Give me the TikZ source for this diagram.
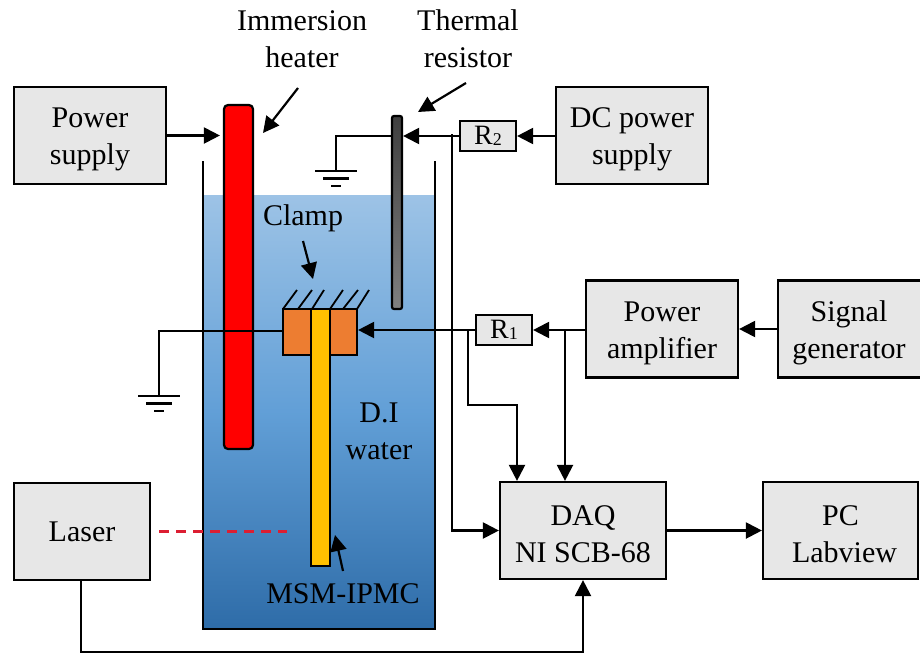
\documentclass[tikz,border=0pt]{standalone}
\usepackage{fontspec}
\setmainfont{Liberation Serif}
\usetikzlibrary{arrows.meta,calc}
\definecolor{boxgray}{HTML}{E7E7E7}
\definecolor{watertop}{HTML}{9DC3E6}
\definecolor{watermid}{HTML}{5B9BD5}
\definecolor{waterbot}{HTML}{2E6CA8}
\definecolor{clampor}{HTML}{ED7D31}
\definecolor{beamyl}{HTML}{FFC000}
\definecolor{laserred}{HTML}{DC1E32}
\tikzset{
  blockbox/.style={draw=black,line width=2.2pt,fill=boxgray,inner sep=0pt},
  smallbox/.style={draw=black,line width=2.2pt,fill=boxgray,inner sep=0pt,minimum width=56pt,minimum height=30pt,
    font=\fontsize{28}{30}\selectfont},
  lbl/.style={inner sep=0pt,align=center,font=\fontsize{30}{37}\selectfont},
  boxtxt/.style={lbl,yshift=-4pt},
  wire/.style={line width=2.2pt,draw=black},
  arr/.style={wire,-{Triangle[length=16pt,width=16pt]}},
  hatch/.style={line width=1.8pt,draw=black},
  gnd/.style={line width=2.2pt,draw=black},
}
\newcommand{\groundsym}[1]{%
  \draw[gnd] ($(#1)+(-21,0)$) -- ($(#1)+(21,0)$);
  \draw[gnd] ($(#1)+(-13,7.5)$) -- ($(#1)+(13,7.5)$);
  \draw[gnd] ($(#1)+(-5,15)$) -- ($(#1)+(5,15)$);
}
\begin{document}
\begin{tikzpicture}[x=1pt,y=-1pt]
\useasboundingbox (0,0) rectangle (920,653);
% water and tank
\shade[top color=watertop,bottom color=waterbot,middle color=watermid!90!watertop] (203,195) rectangle (435,629);
\draw[wire,line join=miter] (203,161) -- (203,629) -- (435,629) -- (435,161);
% blocks
\node[blockbox,minimum width=152pt,minimum height=97pt,label={[boxtxt]center:Power\\supply}] (ps) at (90,135.5) {};
\node[blockbox,minimum width=152pt,minimum height=97pt,label={[boxtxt]center:DC power\\supply}] (dc) at (632,135.5) {};
\node[blockbox,minimum width=152pt,minimum height=97pt,label={[boxtxt]center:Power\\amplifier}] (amp) at (662,329) {};
\node[blockbox,minimum width=150pt,minimum height=97pt,label={[boxtxt,xshift=-4pt]center:Signal\\generator}] (sig) at (853,329) {};
\node[blockbox,minimum width=136pt,minimum height=97pt,label={[lbl]center:Laser}] (laser) at (82,531.5) {};
\node[blockbox,minimum width=166pt,minimum height=97pt,label={[boxtxt]center:DAQ\\NI SCB-68}] (daq) at (583,530.5) {};
\node[blockbox,minimum width=155pt,minimum height=97pt,label={[boxtxt,xshift=4pt]center:\hspace*{-8pt}PC\\Labview}] (pc) at (840.5,530.5) {};
\node[smallbox] (r2) at (488,136) {R\raisebox{-1pt}{\fontsize{18}{18}\selectfont 2}};
\node[smallbox] (r1) at (504,330) {R\raisebox{-1pt}{\fontsize{18}{18}\selectfont 1}};
% heater and thermal resistor
\node[draw=black,line width=2.2pt,fill=red,rounded corners=4pt,minimum width=29pt,minimum height=344pt,inner sep=0pt] (heater) at (238.5,277) {};
\shade[top color=black!75,bottom color=black!50,rounded corners=2pt] (392,116) rectangle (402,309);
\node[draw=black,line width=2.2pt,rounded corners=2pt,minimum width=10pt,minimum height=193pt,inner sep=0pt] (therm) at (397,212.5) {};
% clamp and beam
\coordinate (g1) at (336,171);
\coordinate (g2) at (159,396);
\node[draw=black,line width=2.2pt,fill=clampor,minimum width=74pt,minimum height=46pt,inner sep=0pt] (clamp) at (320,332) {};
\node[draw=black,line width=2.2pt,fill=beamyl,minimum width=19pt,minimum height=257pt,inner sep=0pt] (beam) at (320.5,437.5) {};
\foreach \a/\b in {283/297,298/312,312/324,330/343,343/358,357/369}{
  \draw[hatch] (\a,309) -- (\b,290);
}
% grounds
\draw[wire] (therm.west |- r2) -- (g1 |- r2) -- (g1);
\groundsym{g1}
\draw[wire] (clamp.west) ++(0,-1) -- (g2 |- 0,331) -- (g2);
\groundsym{g2}
% connectors
\draw[arr] (ps.east) -- ($(ps.east -| heater.west)+(-3,0)$);
\draw[arr] (dc.west |- r2) -- (r2.east);
\draw[arr] (r2.west) -- (therm.east |- r2);
\draw[arr] (amp.west |- r1) -- (r1.east);
\draw[arr] (sig.west) -- (amp.east);
\draw[arr] (r1.west) -- (clamp.east |- r1);
\draw[arr] (daq.east) -- (pc.west);
\coordinate (j2) at (452,134);
\draw[arr] (j2) -- (j2 |- daq.west) -- (daq.west);
\coordinate (j1) at (468,330);
\coordinate (dx1) at (517,405);
\draw[arr] (j1) -- (j1 |- dx1) -- (dx1) -- (dx1 |- daq.north);
\coordinate (j3) at (565,330);
\draw[arr] (j3) -- (j3 |- daq.north);
\coordinate (lb) at (81,652);
\draw[arr] (laser.south -| lb) -- (lb) -- (lb -| daq.south) -- (daq.south);
\draw[line width=2.2pt,draw=laserred,dash pattern=on 10pt off 7pt,shorten <=8pt] (laser.east) -- (287,531.5);
% labels
\node[lbl] (limm) at (302,39) {Immersion\\heater};
\node[lbl] (lth) at (468,39) {Thermal\\resistor};
\node[lbl] (lcl) at (303,218) {Clamp};
\node[lbl] (ldi) at (379,431) {D.I\\water};
\node[lbl] (lms) at (343,594) {MSM-IPMC};
% pointer arrows
\coordinate (pa1) at (298,88);
\coordinate (pb1) at (263,133);
\draw[arr] (pa1) -- (pb1);
\coordinate (pa2) at (466,83);
\coordinate (pb2) at (418,112);
\draw[arr] (pa2) -- (pb2);
\coordinate (pa3) at (303,241);
\coordinate (pb3) at (313,279);
\draw[arr] (pa3) -- (pb3);
\coordinate (pa4) at (343,571);
\coordinate (pb4) at (335,535);
\draw[arr] (pa4) -- (pb4);
\end{tikzpicture}
\end{document}
